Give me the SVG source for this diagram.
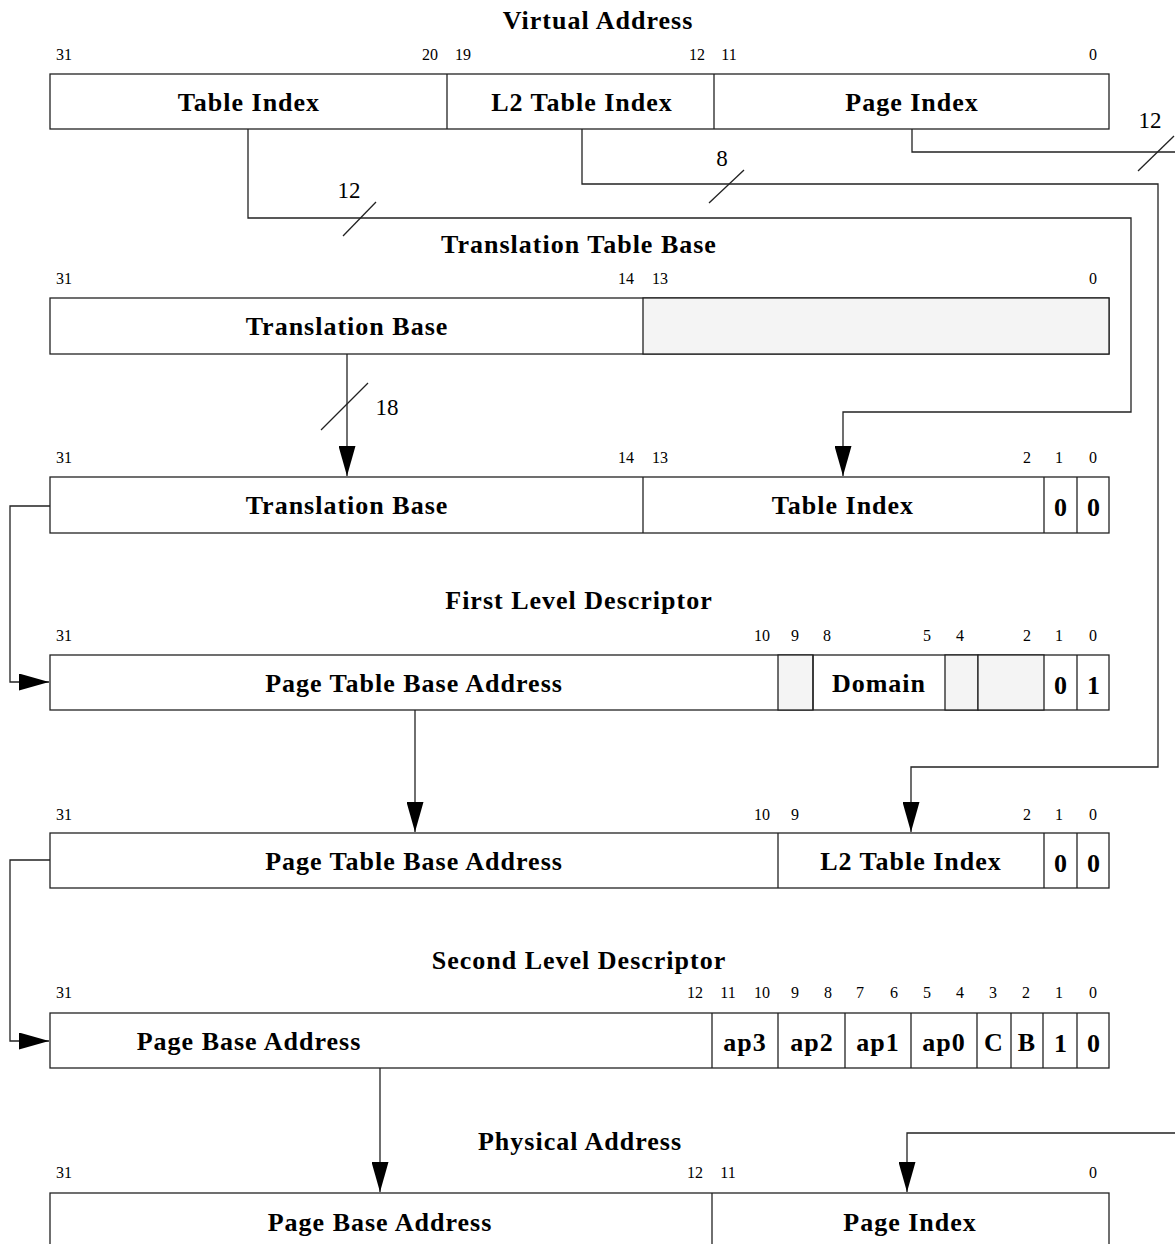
<svg xmlns="http://www.w3.org/2000/svg" width="1175" height="1244" viewBox="0 0 1175 1244">
<style>
.t{font-family:"Liberation Serif",serif;font-weight:bold;font-size:26px;letter-spacing:1px;text-anchor:middle;fill:#000}
.b{font-family:"Liberation Serif",serif;font-size:16px;text-anchor:middle;fill:#000}
.n{font-family:"Liberation Serif",serif;font-size:23px;text-anchor:middle;fill:#000}
.box{fill:#fff;stroke:#222;stroke-width:1.3}
.g{fill:#f4f4f4;stroke:#222;stroke-width:1.3}
.ln{fill:none;stroke:#222;stroke-width:1.3}
</style>
<defs>
<marker id="ah" markerUnits="userSpaceOnUse" markerWidth="30" markerHeight="17" viewBox="0 0 30 17" refX="30" refY="8.5" orient="auto">
<path d="M0,0 L30,8.5 L0,17 z" fill="#000"/>
</marker>
</defs>
<rect width="1175" height="1244" fill="#fff"/>

<g id="virtual-address">
<text class="t" x="598" y="29">Virtual Address</text>
<text class="b" x="64" y="60">31</text><text class="b" x="430" y="60">20</text><text class="b" x="463" y="60">19</text><text class="b" x="697" y="60">12</text><text class="b" x="729" y="60">11</text><text class="b" x="1093" y="60">0</text>
<rect class="box" x="50" y="74" width="1059" height="55"/>
<line class="ln" x1="447" y1="74" x2="447" y2="129"/><line class="ln" x1="714" y1="74" x2="714" y2="129"/>
<text class="t" x="249" y="111">Table Index</text>
<text class="t" x="582" y="111">L2 Table Index</text>
<text class="t" x="912" y="111">Page Index</text>
</g>

<g id="translation-table-base">
<text class="t" x="579" y="253">Translation Table Base</text>
<text class="b" x="64" y="284">31</text><text class="b" x="626" y="284">14</text><text class="b" x="660" y="284">13</text><text class="b" x="1093" y="284">0</text>
<rect class="box" x="50" y="298" width="1059" height="56"/>
<rect class="g" x="643" y="298" width="466" height="56"/>
<text class="t" x="347" y="335">Translation Base</text>
</g>

<g id="first-level-address">
<text class="b" x="64" y="463">31</text><text class="b" x="626" y="463">14</text><text class="b" x="660" y="463">13</text><text class="b" x="1027" y="463">2</text><text class="b" x="1059" y="463">1</text><text class="b" x="1093" y="463">0</text>
<rect class="box" x="50" y="477" width="1059" height="56"/>
<line class="ln" x1="643" y1="477" x2="643" y2="533"/><line class="ln" x1="1044" y1="477" x2="1044" y2="533"/><line class="ln" x1="1077" y1="477" x2="1077" y2="533"/>
<text class="t" x="347" y="514">Translation Base</text>
<text class="t" x="843" y="514">Table Index</text>
<text class="t" x="1061" y="516">0</text><text class="t" x="1094" y="516">0</text>
</g>

<g id="first-level-descriptor">
<text class="t" x="579" y="609">First Level Descriptor</text>
<text class="b" x="64" y="641">31</text><text class="b" x="762" y="641">10</text><text class="b" x="795" y="641">9</text><text class="b" x="827" y="641">8</text><text class="b" x="927" y="641">5</text><text class="b" x="960" y="641">4</text><text class="b" x="1027" y="641">2</text><text class="b" x="1059" y="641">1</text><text class="b" x="1093" y="641">0</text>
<rect class="box" x="50" y="655" width="1059" height="55"/>
<rect class="g" x="778" y="655" width="35" height="55"/>
<rect class="g" x="945" y="655" width="33" height="55"/>
<rect class="g" x="978" y="655" width="66" height="55"/>
<line class="ln" x1="813" y1="655" x2="813" y2="710"/><line class="ln" x1="1077" y1="655" x2="1077" y2="710"/>
<text class="t" x="414" y="692">Page Table Base Address</text>
<text class="t" x="879" y="692">Domain</text>
<text class="t" x="1061" y="694">0</text><text class="t" x="1094" y="694">1</text>
</g>

<g id="second-level-address">
<text class="b" x="64" y="820">31</text><text class="b" x="762" y="820">10</text><text class="b" x="795" y="820">9</text><text class="b" x="1027" y="820">2</text><text class="b" x="1059" y="820">1</text><text class="b" x="1093" y="820">0</text>
<rect class="box" x="50" y="833" width="1059" height="55"/>
<line class="ln" x1="778" y1="833" x2="778" y2="888"/><line class="ln" x1="1044" y1="833" x2="1044" y2="888"/><line class="ln" x1="1077" y1="833" x2="1077" y2="888"/>
<text class="t" x="414" y="870">Page Table Base Address</text>
<text class="t" x="911" y="870">L2 Table Index</text>
<text class="t" x="1061" y="872">0</text><text class="t" x="1094" y="872">0</text>
</g>

<g id="second-level-descriptor">
<text class="t" x="579" y="969">Second Level Descriptor</text>
<text class="b" x="64" y="998">31</text><text class="b" x="695" y="998">12</text><text class="b" x="728" y="998">11</text><text class="b" x="762" y="998">10</text><text class="b" x="795" y="998">9</text><text class="b" x="828" y="998">8</text><text class="b" x="860" y="998">7</text><text class="b" x="894" y="998">6</text><text class="b" x="927" y="998">5</text><text class="b" x="960" y="998">4</text><text class="b" x="993" y="998">3</text><text class="b" x="1026" y="998">2</text><text class="b" x="1059" y="998">1</text><text class="b" x="1093" y="998">0</text>
<rect class="box" x="50" y="1013" width="1059" height="55"/>
<line class="ln" x1="712" y1="1013" x2="712" y2="1068"/><line class="ln" x1="778" y1="1013" x2="778" y2="1068"/><line class="ln" x1="845" y1="1013" x2="845" y2="1068"/><line class="ln" x1="911" y1="1013" x2="911" y2="1068"/><line class="ln" x1="977" y1="1013" x2="977" y2="1068"/><line class="ln" x1="1011" y1="1013" x2="1011" y2="1068"/><line class="ln" x1="1043" y1="1013" x2="1043" y2="1068"/><line class="ln" x1="1077" y1="1013" x2="1077" y2="1068"/>
<text class="t" x="249" y="1050">Page Base Address</text>
<text class="t" x="745" y="1051">ap3</text><text class="t" x="812" y="1051">ap2</text><text class="t" x="878" y="1051">ap1</text><text class="t" x="944" y="1051">ap0</text>
<text class="t" x="994" y="1051">C</text><text class="t" x="1027" y="1051">B</text><text class="t" x="1061" y="1052">1</text><text class="t" x="1094" y="1052">0</text>
</g>

<g id="physical-address">
<text class="t" x="580" y="1150">Physical Address</text>
<text class="b" x="64" y="1178">31</text><text class="b" x="695" y="1178">12</text><text class="b" x="728" y="1178">11</text><text class="b" x="1093" y="1178">0</text>
<rect class="box" x="50" y="1193" width="1059" height="70"/>
<line class="ln" x1="712" y1="1193" x2="712" y2="1263"/>
<text class="t" x="380" y="1231">Page Base Address</text>
<text class="t" x="910" y="1231">Page Index</text>
</g>

<g id="connectors">
<path class="ln" d="M248,129 V218 H1131 V412 H843 V476" marker-end="url(#ah)"/>
<path class="ln" d="M582,129 V184 H1158 V767 H911 V832" marker-end="url(#ah)"/>
<path class="ln" d="M912,129 V152 H1175"/>
<path class="ln" d="M1175,1133 H907 V1192" marker-end="url(#ah)"/>
<path class="ln" d="M347,354 V476" marker-end="url(#ah)"/>
<path class="ln" d="M50,506 H10 V682 H49" marker-end="url(#ah)"/>
<path class="ln" d="M415,710 V832" marker-end="url(#ah)"/>
<path class="ln" d="M50,860 H10 V1041 H49" marker-end="url(#ah)"/>
<path class="ln" d="M380,1068 V1192" marker-end="url(#ah)"/>
<line class="ln" x1="343" y1="236" x2="376" y2="202"/>
<line class="ln" x1="709" y1="203" x2="744" y2="170"/>
<line class="ln" x1="1138" y1="171" x2="1174" y2="136"/>
<line class="ln" x1="321" y1="430" x2="368" y2="383"/>
<text class="n" x="349" y="198">12</text>
<text class="n" x="722" y="166">8</text>
<text class="n" x="1150" y="128">12</text>
<text class="n" x="387" y="415">18</text>
</g>
</svg>
